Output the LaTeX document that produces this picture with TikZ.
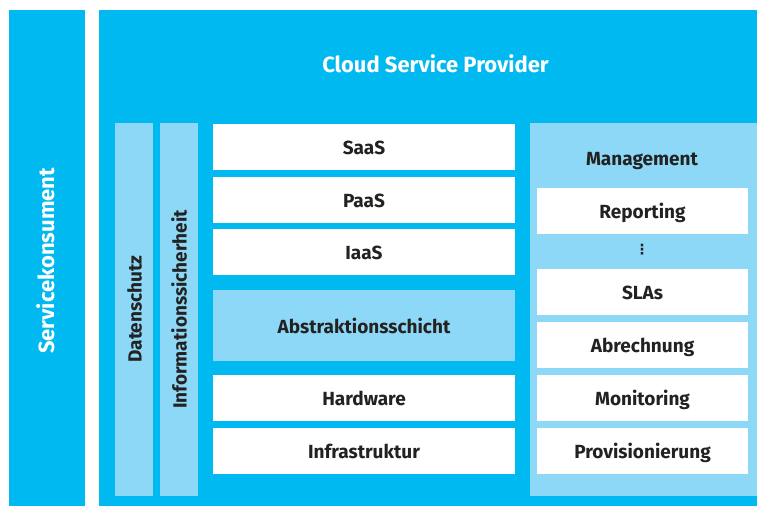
\documentclass[tikz,border=0pt]{standalone}
\usepackage{fontspec}
\setmainfont{Fira Sans}
\newfontfamily\dejavu{DejaVu Sans Bold}
\definecolor{tblue}{RGB}{0,185,241}
\definecolor{tlight}{RGB}{142,216,247}
\definecolor{ttext}{RGB}{34,34,34}
\tikzset{
  area/.style={fill=tblue, draw=none, inner sep=0pt, outer sep=0pt, anchor=north west},
  panel/.style={fill=tlight, draw=none, inner sep=0pt, outer sep=0pt, anchor=north west},
  wbox/.style={fill=white, draw=none, inner sep=0pt, outer sep=0pt, anchor=north west,
    minimum width=302pt, minimum height=46pt, font=\bfseries\fontsize{19}{21}\selectfont,
    text=ttext, text height=15pt, text depth=0pt},
  rbox/.style={wbox, minimum width=211pt},
  lbl/.style={font=\bfseries\fontsize{19}{21}\selectfont, text=ttext, inner sep=0pt,
    text height=13pt, text depth=0pt},
  wlbl/.style={font=\bfseries\fontsize{22}{24}\selectfont, text=white, inner sep=0pt,
    text height=15pt, text depth=0pt}
}
\begin{document}
\begin{tikzpicture}[x=1pt,y=-1pt]
\useasboundingbox (0,0) rectangle (757,506);
% big areas
\node[area, minimum width=76pt, minimum height=496pt] (kons) at (9,10) {};
\node[area, minimum width=658pt, minimum height=496pt] (csp) at (99,10) {};
\node[wlbl, rotate=90] (konslbl) at (46.5,261) {Servicekonsument};
\node[wlbl] (csplbl) at (435.5,65) {Cloud Service Provider};
% vertical columns
\node[panel, minimum width=38pt, minimum height=373pt] (ds) at (115,123) {};
\node[panel, minimum width=38pt, minimum height=373pt] (is) at (160,123) {};
\node[lbl, rotate=90] (dslbl) at (135,309) {Datenschutz};
\node[lbl, rotate=90] (islbl) at (180,309.5) {Informationssicherheit};
% middle stack
\node[wbox] (saas) at (213,124) {SaaS};
\node[wbox] (paas) at (213,176.5) {PaaS};
\node[wbox] (iaas) at (213,229) {IaaS};
\node[wbox, fill=tlight, minimum height=71pt] (abs) at (213,290) {Abstraktionsschicht};
\node[wbox] (hw) at (213,375) {Hardware};
\node[wbox] (infra) at (213,428) {Infrastruktur};
% management panel
\node[panel, minimum width=227pt, minimum height=373pt] (mgmt) at (530,123) {};
\node[lbl] (mgmtlbl) at (642,159) {Management};
\node[rbox] (rep) at (537,188) {Reporting};
\node[inner sep=0pt, text=ttext, font=\dejavu\fontsize{14}{14}\selectfont] (dots) at (642,250) {⋮};
\node[rbox] (sla) at (537,269) {SLAs};
\node[rbox] (abr) at (537,322) {Abrechnung};
\node[rbox] (mon) at (537,375) {Monitoring};
\node[rbox] (prov) at (537,428) {Provisionierung};
\end{tikzpicture}
\end{document}
